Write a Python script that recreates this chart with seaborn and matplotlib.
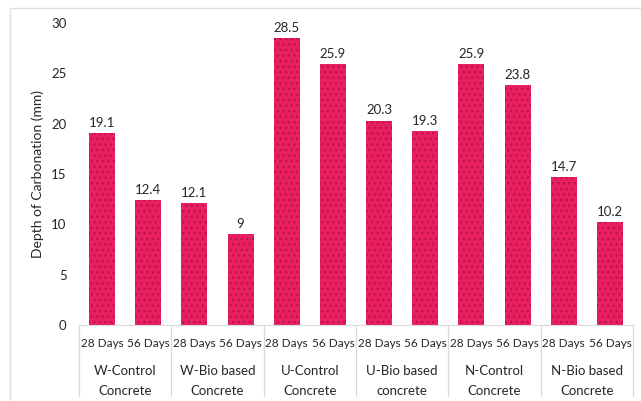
import numpy as np
import pandas as pd
import matplotlib
matplotlib.use('Agg')
import matplotlib.pyplot as plt
import seaborn as sns
from matplotlib.patches import Rectangle

# data
groups = ['W-Control\nConcrete', 'W-Bio based\nConcrete', 'U-Control\nConcrete',
          'U-Bio based\nconcrete', 'N-Control\nConcrete', 'N-Bio based\nConcrete']
ages = ['28 Days', '56 Days']
depth_28 = [19.1, 12.1, 28.5, 20.3, 25.9, 14.7]
depth_56 = [12.4, 9, 25.9, 19.3, 23.8, 10.2]
yticks = [0, 5, 10, 15, 20, 25, 30]

rows = []
for g, a, b in zip(groups, depth_28, depth_56):
    rows.append({'key': g + '|28', 'group': g, 'age': ages[0], 'depth': a})
    rows.append({'key': g + '|56', 'group': g, 'age': ages[1], 'depth': b})
df = pd.DataFrame(rows)

sns.set_style('white')
plt.rcParams['font.family'] = ['Lato', 'DejaVu Sans']
plt.rcParams['hatch.linewidth'] = 1.0

fig = plt.figure(figsize=(6.41, 4.01), dpi=100)
ax = fig.add_axes([79 / 641, 76 / 401, 554 / 641, 302 / 401])

sns.barplot(data=df, x='key', y='depth', color='#e8205f', width=0.56,
            saturation=1, ax=ax)
for p in ax.patches:
    p.set_hatch('...')
    p.set_edgecolor('#c2124c')
    p.set_linewidth(0)

ax.set_ylim(0, 30)
ax.set_yticks(yticks)
ax.set_yticklabels([str(t) for t in yticks], fontsize=9.5)
ax.tick_params(axis='y', length=0, pad=9)
ax.tick_params(axis='x', length=0)
ax.set_xticklabels([])
ax.set_xlabel('')
ax.set_ylabel('Depth of Carbonation (mm)', fontsize=10, labelpad=5)
for s in ['top', 'right', 'left']:
    ax.spines[s].set_visible(False)
ax.spines['bottom'].set_color('#d9d9d9')

labels = [('%g' % v) for v in df['depth']]
ax.bar_label(ax.containers[0], labels=labels, padding=3, fontsize=9.5)

# category axis: age row + group row + separators
n = len(df)
trans = ax.get_xaxis_transform()
for i, a in enumerate(df['age']):
    ax.text(i, -0.06, a, transform=trans, ha='center', va='center', fontsize=8.5)
for j, g in enumerate(groups):
    ax.text(2 * j + 0.5, -0.185, g, transform=trans, ha='center', va='center',
            fontsize=9.5, linespacing=1.85)
for k in range(len(groups) + 1):
    ax.plot([2 * k - 0.5, 2 * k - 0.5], [0, -0.235], transform=trans,
            color='#d9d9d9', lw=0.9, clip_on=False)
ax.set_xlim(-0.5, n - 0.5)

# chart border
fig.patches.append(Rectangle((10 / 641, -0.01), 1.0, (401 - 8) / 401 + 0.01,
                             transform=fig.transFigure, fill=False,
                             edgecolor='#e0e0e0', lw=1))

fig.savefig('out.png', dpi=100)
